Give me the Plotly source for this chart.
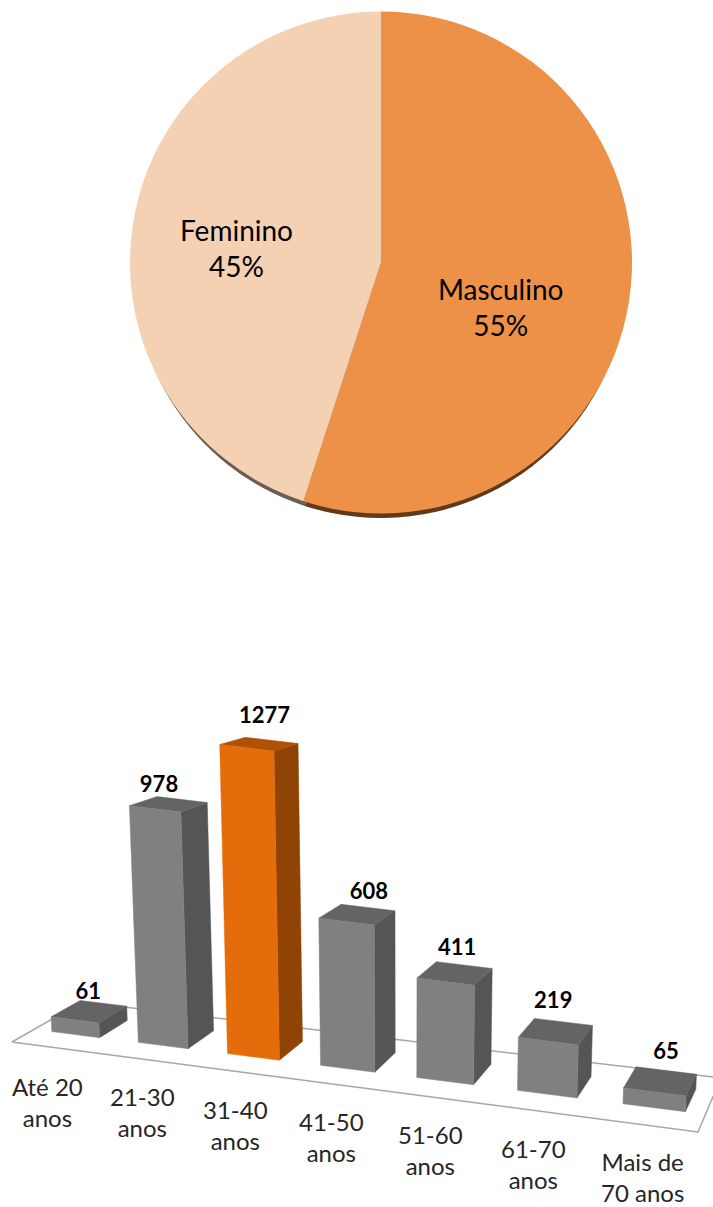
import numpy as np
import plotly.graph_objects as go

# --- data ---
gender_labels = ["Masculino", "Feminino"]
gender_values = [55, 45]
age_labels = ["Até 20<br>anos", "21-30<br>anos", "31-40<br>anos", "41-50<br>anos",
              "51-60<br>anos", "61-70<br>anos", "Mais de<br>70 anos"]
age_values = [61, 978, 1277, 608, 411, 219, 65]
highlight = "31-40<br>anos"

# --- page and projection constants ---
W, H = 713, 1207
FLOOR = np.array([[12, 1042], [698, 1132], [721, 1078], [82, 1002]], float)  # FL FR BR BL
PX_PER_UNIT = 0.242
BAR_W, D0, D1 = 0.57, 0.30, 0.72
BAR_DX = [0, 2, 3, 4, 4, 4, 4]
DEPTH_FLATTEN = 0.036  # the top faces flatten with height, as the camera sits low


def homography(q):
    src = [(0, 0), (1, 0), (1, 1), (0, 1)]
    A, b = [], []
    for (s, d), (x, y) in zip(src, q):
        A.append([s, d, 1, 0, 0, 0, -s * x, -d * x]); b.append(x)
        A.append([0, 0, 0, s, d, 1, -s * y, -d * y]); b.append(y)
    return np.append(np.linalg.solve(np.array(A, float), np.array(b, float)), 1).reshape(3, 3)


HM = homography(FLOOR)


def project(s, d, v=0.0, dx=0.0):
    p = HM @ np.array([s, d, 1.0])
    x, y = p[0] / p[2], p[1] / p[2]
    h = v * PX_PER_UNIT
    return x + (x - 400) / 7000 * h + dx, y - h + (d - D0) / (D1 - D0) * DEPTH_FLATTEN * h


def poly(fig, pts, color):
    fig.add_trace(go.Scatter(x=[p[0] for p in pts] + [pts[0][0]], y=[p[1] for p in pts] + [pts[0][1]],
                             mode="lines", fill="toself", fillcolor=color,
                             line=dict(color=color, width=0.5), hoverinfo="skip", showlegend=False))


fig = go.Figure()

# --- pie with its dark rim below ---
def pie_domain(cx, cy, r):
    return dict(x=[(cx - r) / W, (cx + r) / W], y=[1 - (cy + r) / H, 1 - (cy - r) / H])


common = dict(labels=gender_labels, values=gender_values, sort=False, direction="clockwise",
              rotation=0, textinfo="none", hoverinfo="label+percent", showlegend=False)
fig.add_trace(go.Pie(domain=pie_domain(381, 271, 247), marker=dict(colors=["#613A1B", "#6B5D50"]), **common))
fig.add_trace(go.Pie(domain=pie_domain(381, 262.5, 251), marker=dict(colors=["#EC9147", "#F4D1B3"]), **common))

total = sum(gender_values)
pie_text_pos = [(500, 307), (236, 248)]
annos = []
for name, val, (x, y) in zip(gender_labels, gender_values, pie_text_pos):
    annos.append(dict(x=x, y=y, xref="x", yref="y", text=f"{name}<br>{round(100 * val / total)}%",
                      showarrow=False, font=dict(family="Lato", size=28, color="#000000")))

# --- floor outline ---
fl = [tuple(p) for p in FLOOR]
fig.add_trace(go.Scatter(x=[p[0] for p in fl] + [fl[0][0]], y=[p[1] for p in fl] + [fl[0][1]], mode="lines",
                         line=dict(color="#A6A6A6", width=1.5), hoverinfo="skip", showlegend=False))

# --- bars, projected from the values ---
n = len(age_values)
tops = []
for i, (c, v) in enumerate(zip(age_labels, age_values)):
    front, side, top = ("#E46C0A", "#8F4304", "#AE5206") if c == highlight else ("#808080", "#555555", "#646464")
    s0 = (i + 0.5) / n - BAR_W / n / 2
    s1 = (i + 0.5) / n + BAR_W / n / 2
    dx = BAR_DX[i]
    poly(fig, [project(s1, D0, 0, dx), project(s1, D1, 0, dx), project(s1, D1, v, dx), project(s1, D0, v, dx)], side)
    poly(fig, [project(s0, D1, v, dx), project(s1, D1, v, dx), project(s1, D0, v, dx), project(s0, D0, v, dx)], top)
    poly(fig, [project(s0, D0, 0, dx), project(s1, D0, 0, dx), project(s1, D0, v, dx), project(s0, D0, v, dx)], front)
    tops.append(project((s0 + s1) / 2, D1, v, dx))

# --- value labels ---
label_dx = [-15, -23, -7, 1, -7, -10, 0]
label_dy = [-10, -13, -23, -14, -16, -19, -17]
fig.add_trace(go.Scatter(x=[t[0] + dx for t, dx in zip(tops, label_dx)],
                         y=[t[1] + dy for t, dy in zip(tops, label_dy)],
                         mode="text", text=[str(v) for v in age_values], textposition="middle center",
                         textfont=dict(family="Lato", size=22, color="#000000", weight="bold"),
                         hoverinfo="skip", showlegend=False))

# --- category labels ---
cat_pos = [(47, 1102), (142, 1112), (235, 1125), (331, 1137), (430, 1150), (533, 1164), (642, 1177)]
for c, (x, y) in zip(age_labels, cat_pos):
    annos.append(dict(x=x, y=y, xref="x", yref="y", text=c, showarrow=False,
                      font=dict(family="Lato", size=24, color="#262626")))

fig.update_layout(width=W, height=H, margin=dict(l=0, r=0, t=0, b=0), paper_bgcolor="#FFFFFF",
                  plot_bgcolor="rgba(0,0,0,0)", annotations=annos, showlegend=False,
                  xaxis=dict(range=[0, W], visible=False, fixedrange=True),
                  yaxis=dict(range=[H, 0], visible=False, fixedrange=True))
fig.write_html("out.html", config={"displayModeBar": False},
               post_script="document.body.style.margin='0';document.documentElement.style.overflow='hidden';")
